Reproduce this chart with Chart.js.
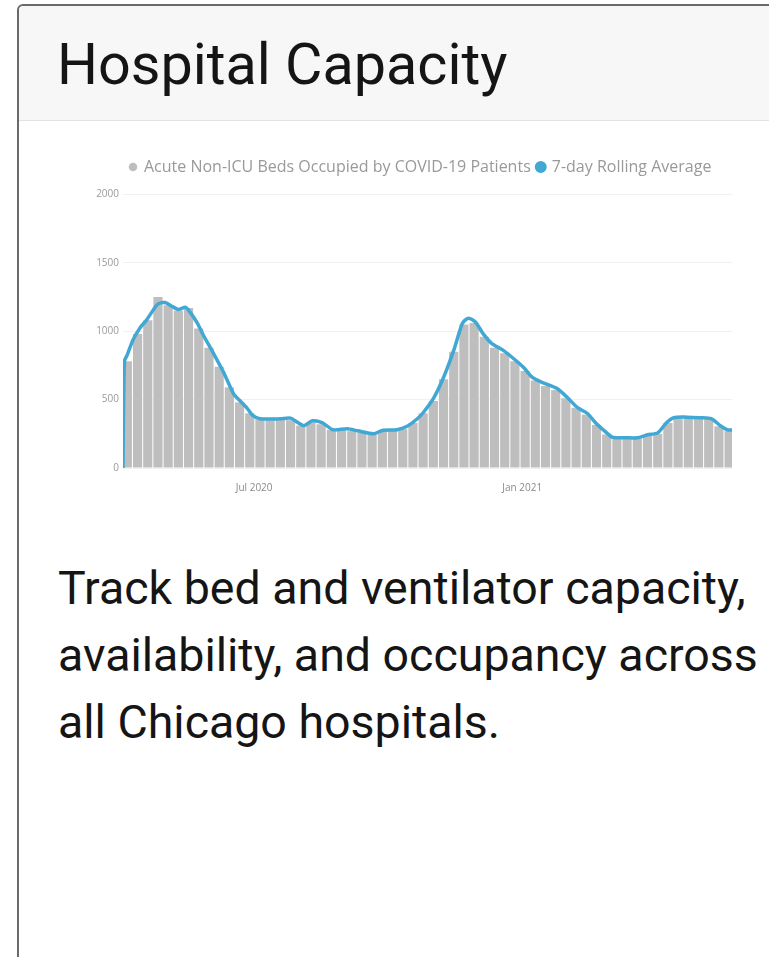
<!DOCTYPE html>
<html>
<head>
<meta charset="utf-8">
<title>Hospital Capacity</title>
<script src="https://cdn.jsdelivr.net/npm/chart.js@4.4.1/dist/chart.umd.min.js"></script>
<style>
    html, body { margin: 0; padding: 0; background: #fff; overflow: hidden; }
    body { width: 769px; height: 957px; position: relative; font-family: Roboto, sans-serif; }
    .card {
        position: absolute; left: 17px; top: 4px; width: 800px; height: 1000px;
        border: 2px solid #6a6a6a; border-radius: 6px; background: #fff;
    }
    .card-header {
        position: absolute; left: 0; top: 0; right: 0; height: 114px;
        background: #f7f7f7; border-bottom: 1px solid #e2e2e2; border-radius: 5px 0 0 0;
    }
    .card-header h2 {
        position: absolute; left: 38px; top: 30px; margin: 0;
        font-size: 57.5px; line-height: 1; font-weight: 400; color: #151515;
    }
    .chart-box { position: absolute; left: 76px; top: 146px; width: 650px; height: 352px; }
    .card-text {
        position: absolute; left: 39px; top: 549px; margin: 0;
        font-size: 46.5px; line-height: 67px; font-weight: 400; color: #151515;
    }
</style>
</head>
<body>
<div class="card">
    <div class="card-header"><h2>Hospital Capacity</h2></div>
    <div class="chart-box"><canvas id="hospitalChart"></canvas></div>
    <p class="card-text">Track bed and ventilator capacity,<br>availability, and occupancy across<br>all Chicago hospitals.</p>
</div>

<script>
// Данные (значения примерные)
const startDate = '2020-04-02';
const endDate = '2021-05-25';

// Недельные столбцы: койки вне ICU, занятые пациентами с COVID-19
const bedsOccupied = [
    780, 980, 1080, 1250, 1190, 1150, 1170, 1020, 880, 740,
    590, 480, 400, 355, 350, 355, 350, 310, 335, 320,
    280, 275, 270, 260, 245, 265, 270, 285, 330, 400,
    490, 650, 850, 1050, 1060, 960, 880, 840, 780, 710,
    640, 600, 570, 510, 440, 390, 315, 245, 215, 215,
    215, 235, 250, 330, 362, 365, 360, 355, 305, 270
];

// Скользящее среднее за 7 дней
const avgDates = [
    '2020-04-02', '2020-04-03', '2020-04-05', '2020-04-09', '2020-04-14', '2020-04-18',
    '2020-04-23', '2020-04-26', '2020-05-01', '2020-05-06', '2020-05-10', '2020-05-15',
    '2020-05-18', '2020-05-23', '2020-05-27', '2020-06-03', '2020-06-10', '2020-06-17',
    '2020-06-21', '2020-06-26', '2020-06-30', '2020-07-05', '2020-07-19', '2020-07-26',
    '2020-08-04', '2020-08-10', '2020-08-17', '2020-08-24', '2020-09-03', '2020-09-10',
    '2020-09-21', '2020-09-27', '2020-10-07', '2020-10-14', '2020-10-21', '2020-10-25',
    '2020-11-01', '2020-11-08', '2020-11-15', '2020-11-21', '2020-11-25', '2020-11-30',
    '2020-12-05', '2020-12-11', '2020-12-19', '2020-12-26', '2021-01-02', '2021-01-08',
    '2021-01-15', '2021-01-25', '2021-02-01', '2021-02-08', '2021-02-15', '2021-02-21',
    '2021-02-28', '2021-03-04', '2021-03-14', '2021-03-21', '2021-03-28', '2021-04-04',
    '2021-04-10', '2021-04-15', '2021-04-24', '2021-05-03', '2021-05-11', '2021-05-17',
    '2021-05-22', '2021-05-25'
];
const rollingAvg = [
    0, 780, 830, 940, 1030, 1080,
    1160, 1200, 1210, 1180, 1160, 1175,
    1140, 1060, 975, 840, 700, 540,
    495, 440, 385, 360, 360, 365,
    310, 345, 330, 280, 287, 272,
    250, 275, 280, 305, 360, 404,
    507, 662, 860, 1059, 1096, 1066,
    985, 912, 860, 801, 735, 662,
    625, 581, 515, 441, 397, 323,
    257, 225, 221, 221, 243, 257,
    331, 368, 372, 368, 360, 309,
    279, 278
];

const yTicks = [0, 500, 1000, 1500, 2000];
const tickDates = ['2020-07-01', '2021-01-01'];
const tickLabels = ['Jul 2020', 'Jan 2021'];

const DAY = 86400000;
const t0 = Date.parse(startDate);
const dayOf = s => (Date.parse(s) - t0) / DAY;

// столбцы стоят по середине каждой недели
const barPoints = bedsOccupied.map((v, i) => ({ x: 3 + i * 7, y: v }));
const avgPoints = avgDates.map((d, i) => ({ x: dayOf(d), y: rollingAvg[i] }));

document.addEventListener('DOMContentLoaded', function() {
    const ctx = document.getElementById('hospitalChart').getContext('2d');
    new Chart(ctx, {
        type: 'bar',
        data: {
            datasets: [
                {
                    type: 'bar',
                    label: 'Acute Non-ICU Beds Occupied by COVID-19 Patients',
                    data: barPoints,
                    backgroundColor: '#bebebe',
                    borderWidth: 0,
                    barPercentage: 1,
                    categoryPercentage: 0.9,
                    order: 1
                },
                {
                    type: 'line',
                    label: '7-day Rolling Average',
                    data: avgPoints,
                    borderColor: '#41a8d4',
                    backgroundColor: '#41a8d4',
                    borderWidth: 3.5,
                    pointRadius: 0,
                    tension: 0.25,
                    order: 0
                }
            ]
        },
        options: {
            responsive: true,
            maintainAspectRatio: false,
            animation: false,
            layout: { padding: { left: 0, right: 13, top: 0, bottom: 4 } },
            plugins: {
                legend: {
                    position: 'top',
                    align: 'start',
                    fullSize: false,
                    labels: {
                        usePointStyle: true,
                        pointStyle: 'circle',
                        boxWidth: 6,
                        boxHeight: 6,
                        padding: 7,
                        color: '#999999',
                        font: { family: 'Open Sans', size: 16 },
                        sort: (a, b) => a.datasetIndex - b.datasetIndex
                    }
                },
                tooltip: { enabled: false }
            },
            scales: {
                x: {
                    type: 'linear',
                    offset: false,
                    min: 0,
                    max: dayOf(endDate),
                    grid: { display: false },
                    border: { display: false },
                    afterBuildTicks: axis => {
                        axis.ticks = tickDates.map(d => ({ value: dayOf(d) }));
                    },
                    ticks: {
                        color: '#8a8a8a',
                        font: { family: 'Open Sans', size: 10 },
                        maxRotation: 0,
                        padding: 6,
                        callback: (v, i) => tickLabels[i]
                    }
                },
                y: {
                    min: 0,
                    max: 2070,
                    afterBuildTicks: axis => {
                        axis.ticks = yTicks.map(v => ({ value: v }));
                    },
                    afterFit: axis => { axis.width = 28; },
                    grid: { color: '#f1f1f1', drawTicks: false },
                    border: { display: false },
                    ticks: {
                        color: '#9a9a9a',
                        font: { family: 'Open Sans', size: 10 },
                        padding: 4,
                        callback: v => String(v)
                    }
                }
            }
        }
    });
});
</script>
</body>
</html>
